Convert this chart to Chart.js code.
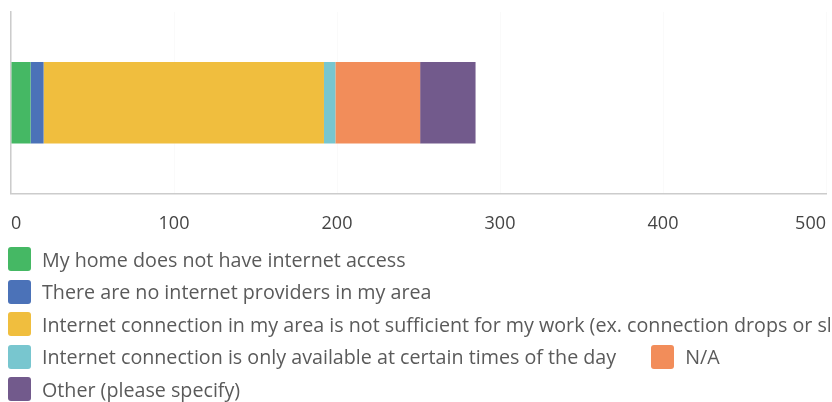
<!DOCTYPE html>
<html>
<head>
<meta charset="utf-8">
<script src="https://cdn.jsdelivr.net/npm/chart.js@4.4.0/dist/chart.umd.min.js"></script>
<style>
  html, body { margin: 0; padding: 0; background: #fff; overflow: hidden; }
  body { width: 832px; height: 402px; position: relative; }
  #wrap { position: absolute; left: 0; top: 0; width: 832px; height: 255px; }
  #legend {
    position: absolute; left: 8px; top: 243px; width: 760px;
    display: flex; flex-wrap: wrap; column-gap: 35px;
    font-family: "Open Sans", sans-serif; font-size: 19.7px; color: #5a5a5a;
  }
  .item { display: flex; align-items: center; height: 32.5px; white-space: nowrap; }
  .box { width: 23px; height: 24px; border-radius: 3px; margin-right: 11px; flex: none; }
</style>
</head>
<body>
<div id="wrap"><canvas id="chart"></canvas></div>
<div id="legend"></div>
<script>
const answers = [
  'My home does not have internet access',
  'There are no internet providers in my area',
  'Internet connection in my area is not sufficient for my work (ex. connection drops or slow speeds)',
  'Internet connection is only available at certain times of the day',
  'N/A',
  'Other (please specify)'
];
const counts = [12, 8, 172, 7, 52, 34];
const colors = ['#45b864', '#4b72b8', '#f0be3e', '#78c6cf', '#f28d5a', '#725a8c'];
const xTicks = [0, 100, 200, 300, 400, 500];

const chart = new Chart(document.getElementById('chart').getContext('2d'), {
  type: 'bar',
  data: {
    labels: [''],
    datasets: answers.map((a, i) => ({
      label: a,
      data: [counts[i]],
      backgroundColor: colors[i],
      categoryPercentage: 0.5,
      barPercentage: 0.9
    }))
  },
  options: {
    indexAxis: 'y',
    responsive: true,
    maintainAspectRatio: false,
    animation: false,
    layout: { padding: { left: 11, top: 12, right: 6, bottom: 0 } },
    plugins: {
      legend: { display: false },
      tooltip: { enabled: false }
    },
    scales: {
      x: {
        stacked: true,
        min: 0,
        max: 500,
        afterBuildTicks: axis => { axis.ticks = xTicks.map(v => ({ value: v })); },
        afterFit: axis => { axis.paddingLeft = 0; axis.paddingRight = 0; },
        grid: { color: '#fafafa', drawTicks: false },
        border: { color: '#cccccc', width: 1.5 },
        ticks: {
          align: 'inner',
          padding: 20,
          color: '#444',
          font: { family: 'Open Sans', size: 18 }
        }
      },
      y: {
        stacked: true,
        grid: { display: false },
        border: { color: '#cccccc', width: 1.5 },
        ticks: { display: false },
        afterFit: axis => { axis.width = 0; }
      }
    }
  }
});

const legend = document.getElementById('legend');
answers.forEach((a, i) => {
  const item = document.createElement('div');
  item.className = 'item';
  const box = document.createElement('span');
  box.className = 'box';
  box.style.background = colors[i];
  const txt = document.createElement('span');
  txt.textContent = a;
  item.appendChild(box);
  item.appendChild(txt);
  legend.appendChild(item);
});
</script>
</body>
</html>
